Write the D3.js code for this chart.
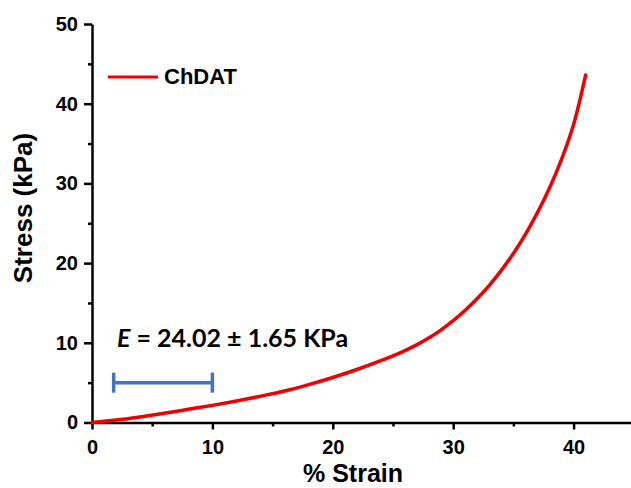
<!DOCTYPE html>
<html>
<head>
<meta charset="utf-8">
<script src="https://cdn.jsdelivr.net/npm/d3@7"></script>
<style>
  body { margin: 0; background: #fff; }
  .axis path, .axis line { stroke: #000; stroke-width: 2.5; }
  .axis text { font-family: "Liberation Sans", Arial, sans-serif; font-weight: bold; font-size: 20px; fill: #000; }
  .title { font-family: "Liberation Sans", Arial, sans-serif; font-weight: bold; font-size: 25px; fill: #000; }
</style>
</head>
<body>
<div id="chart"></div>
<script>
// stress-strain curve
var strain = [0, 2, 4, 6, 8, 10, 12, 14, 16, 18, 20, 22, 24, 25, 26, 27, 28, 29, 30, 31, 32, 33, 34, 35, 36, 37, 38, 39, 40, 41];
var stress = [0, 0.3, 0.7, 1.15, 1.65, 2.15, 2.7, 3.3, 3.95, 4.75, 5.65, 6.65, 7.75, 8.35, 9.02, 9.77, 10.63, 11.63, 12.78, 14.08, 15.55, 17.21, 19.09, 21.21, 23.61, 26.33, 29.43, 33.03, 37.4, 43.6];
var xTicks = [0, 10, 20, 30, 40];
var yTicks = [0, 10, 20, 30, 40, 50];
var errBar = { x0: 1.8, x1: 10, y: 5 };
var seriesName = "ChDAT";

var width = 631, height = 488;
var margin = { top: 24, right: 0, bottom: 65.5, left: 92 };

var svg = d3.select("#chart").append("svg").attr("width", width).attr("height", height);

var x = d3.scaleLinear().domain([0, 44.77]).range([margin.left, width - margin.right]);
var y = d3.scaleLinear().domain([0, 50]).range([height - margin.bottom, margin.top]);

// minor ticks first so major ones sit on top
svg.append("g").attr("class", "axis").attr("transform", `translate(0,${y(0)})`)
  .call(d3.axisBottom(x).tickValues([5, 15, 25, 35]).tickSize(4).tickFormat(""))
  .select(".domain").remove();
svg.append("g").attr("class", "axis").attr("transform", `translate(${x(0)},0)`)
  .call(d3.axisLeft(y).tickValues([5, 15, 25, 35, 45]).tickSize(4).tickFormat(""))
  .select(".domain").remove();

svg.append("g").attr("class", "axis").attr("transform", `translate(0,${y(0)})`)
  .call(d3.axisBottom(x).tickValues(xTicks).tickSize(7).tickSizeOuter(0).tickPadding(10).tickFormat(d3.format("d")));
svg.append("g").attr("class", "axis").attr("transform", `translate(${x(0)},0)`)
  .call(d3.axisLeft(y).tickValues(yTicks).tickSize(8).tickSizeOuter(0).tickPadding(6).tickFormat(d3.format("d")));

svg.append("text").attr("class", "title").attr("x", 353).attr("y", 482)
  .attr("text-anchor", "middle").text("% Strain");
svg.append("text").attr("class", "title").style("font-size", "26px")
  .attr("transform", "translate(32,208) rotate(-90)")
  .attr("text-anchor", "middle").text("Stress (kPa)");

var pts = strain.map((s, i) => [s, stress[i]]);
var line = d3.line().x(d => x(d[0])).y(d => y(d[1])).curve(d3.curveCatmullRom.alpha(0.5));
svg.append("path").datum(pts).attr("d", line)
  .attr("fill", "none").attr("stroke", "#f00000").attr("stroke-width", 3.5).attr("stroke-linecap", "round");

// legend
svg.append("line").attr("x1", 108).attr("x2", 158).attr("y1", 77).attr("y2", 77)
  .attr("stroke", "#f00000").attr("stroke-width", 3);
svg.append("text").attr("x", 164).attr("y", 84)
  .style("font-family", "Liberation Sans, Arial, sans-serif").style("font-weight", "bold").style("font-size", "22px")
  .text(seriesName);

// modulus range bar
var eb = svg.append("g").attr("stroke", "#4472c4").attr("stroke-width", 3.5);
eb.append("line").attr("x1", x(errBar.x0)).attr("x2", x(errBar.x1)).attr("y1", y(errBar.y)).attr("y2", y(errBar.y));
[errBar.x0, errBar.x1].forEach(v => {
  eb.append("line").attr("x1", x(v)).attr("x2", x(v)).attr("y1", y(errBar.y) - 10).attr("y2", y(errBar.y) + 10);
});

var ann = svg.append("text").attr("x", 117).attr("y", 347)
  .style("font-family", "Lato, Carlito, sans-serif").style("font-weight", "bold").style("font-size", "25px");
ann.append("tspan").style("font-style", "italic").text("E");
ann.append("tspan").text(" = 24.02 \u00b1 1.65 KPa");
</script>
</body>
</html>
